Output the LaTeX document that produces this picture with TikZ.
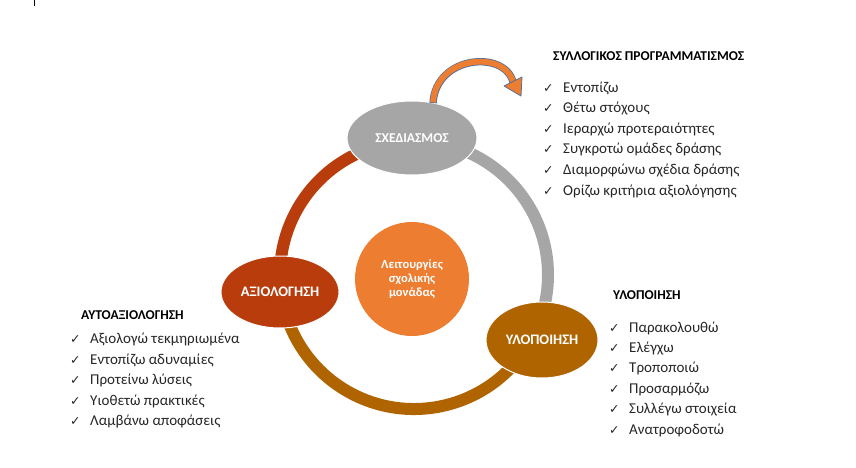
\documentclass[tikz,border=0pt]{standalone}
\usepackage{fontspec}
\setmainfont{Carlito}
\newfontfamily\chkfont{DejaVu Sans}
\usetikzlibrary{shapes.geometric}

\definecolor{plangray}{RGB}{166,166,166}
\definecolor{evalred}{RGB}{184,60,12}
\definecolor{implbrown}{RGB}{176,100,0}
\definecolor{coreorange}{RGB}{237,125,49}
\definecolor{arrowline}{RGB}{84,112,150}

\tikzset{
  phase/.style={ellipse, draw=white, line width=1pt, inner sep=0pt,
    text=white, font=\fontsize{14.5}{16}\selectfont\bfseries},
  ring/.style={line width=12pt},
  head/.style={anchor=west, inner sep=0pt, font=\fontsize{13.5}{15}\selectfont\bfseries},
  item/.style={anchor=west, inner sep=0pt, text=black!85,
    font=\fontsize{15}{17}\selectfont}
}
\newcommand{\chk}{\makebox[20pt][l]{\chkfont\fontsize{12.5}{14}\selectfont ✓}}

\begin{document}
\begin{tikzpicture}[x=1pt,y=-1pt]
\useasboundingbox (0,0) rectangle (856,468);
\draw[line width=0.8pt] (34,0) -- (34,6);

%--- RING ---
\coordinate (c) at (414,275);
\draw[ring, plangray] (c) ++(-90:134) arc[start angle=-90, end angle=28, radius=134];
\draw[ring, implbrown] (c) ++(28:134) arc[start angle=28, end angle=172, radius=134];
\draw[ring, evalred] (c) ++(172:134) arc[start angle=172, end angle=270, radius=134];

%--- PHASES ---
\node[phase, fill=plangray, minimum width=130pt, minimum height=74pt,
  font=\fontsize{13.5}{15}\selectfont\bfseries] (plan) at (412,138) {ΣΧΕΔΙΑΣΜΟΣ};
\node[phase, fill=implbrown, minimum width=112pt, minimum height=76pt] (impl) at (542,340) {ΥΛΟΠΟΙΗΣΗ};
\node[phase, fill=evalred, minimum width=118pt, minimum height=72pt] (eval) at (280,292) {ΑΞΙΟΛΟΓΗΣΗ};

% centre
\node[circle, fill=coreorange, minimum size=114pt, inner sep=0pt, text=white, align=center,
  font=\fontsize{12.5}{14}\selectfont\bfseries] (core) at (412,279)
  {Λειτουργίες\\σχολικής\\μονάδας};

%--- CURVED ARROW ---
\coordinate (a0) at (433,103);
\coordinate (a1) at (513,82);
\coordinate (tip) at (521,96);
\draw[arrowline, line width=7.4pt] (a0) .. controls (436,55) and (505,50) .. (a1);
\draw[coreorange, line width=5.8pt, shorten <=0.7pt] (a0) .. controls (436,55) and (505,50) .. (a1);
\filldraw[fill=coreorange, draw=arrowline, line width=0.8pt, line join=round]
  (504,86) -- (tip) -- (522,77) -- cycle;

%--- PLANNING LIST ---
\node[head] (planh) at (553,56) {ΣΥΛΛΟΓΙΚΟΣ ΠΡΟΓΡΑΜΜΑΤΙΣΜΟΣ};
\node[item] (p1) at (543,88) {\chk Εντοπίζω};
\node[item] (p2) at (543,108) {\chk Θέτω στόχους};
\node[item] (p3) at (543,129) {\chk Ιεραρχώ προτεραιότητες};
\node[item] (p4) at (543,149) {\chk Συγκροτώ ομάδες δράσης};
\node[item] (p5) at (543,170) {\chk Διαμορφώνω σχέδια δράσης};
\node[item] (p6) at (543,191) {\chk Ορίζω κριτήρια αξιολόγησης};

%--- IMPLEMENTATION LIST ---
\node[head] (implh) at (613,295) {ΥΛΟΠΟΙΗΣΗ};
\node[item] (i1) at (609,328) {\chk Παρακολουθώ};
\node[item] (i2) at (609,348) {\chk Ελέγχω};
\node[item] (i3) at (609,368) {\chk Τροποποιώ};
\node[item] (i4) at (609,389) {\chk Προσαρμόζω};
\node[item] (i5) at (609,409) {\chk Συλλέγω στοιχεία};
\node[item] (i6) at (609,430) {\chk Ανατροφοδοτώ};

%--- EVALUATION LIST ---
\node[head] (evalh) at (81,315) {ΑΥΤΟΑΞΙΟΛΟΓΗΣΗ};
\node[item] (e1) at (70,339) {\chk Αξιολογώ τεκμηριωμένα};
\node[item] (e2) at (70,360) {\chk Εντοπίζω αδυναμίες};
\node[item] (e3) at (70,380) {\chk Προτείνω λύσεις};
\node[item] (e4) at (70,401) {\chk Υιοθετώ πρακτικές};
\node[item] (e5) at (70,422) {\chk Λαμβάνω αποφάσεις};

\end{tikzpicture}
\end{document}
